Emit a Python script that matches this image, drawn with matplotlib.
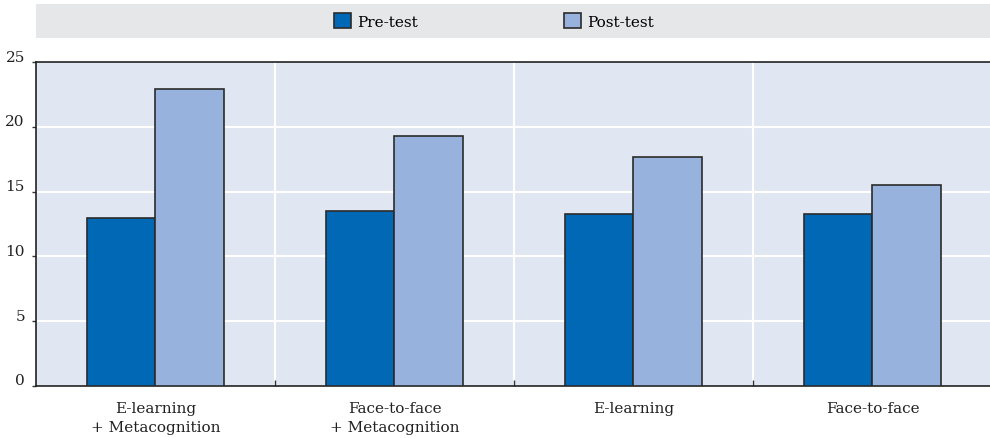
import numpy as np
import matplotlib.pyplot as plt
import matplotlib.transforms as mtransforms
from matplotlib.patches import Rectangle

# data
categories = ["E-learning\n+ Metacognition", "Face-to-face\n+ Metacognition",
              "E-learning", "Face-to-face"]
pre_test = [13.0, 13.5, 13.3, 13.3]
post_test = [22.9, 19.3, 17.7, 15.5]
series_names = ["Pre-test", "Post-test"]
y_ticks = [0, 5, 10, 15, 20, 25]

pre_color = "#0068b4"
post_color = "#97b2dd"
bg_color = "#e0e7f2"
edge = "#2b2b2b"

plt.rcParams["font.family"] = ["DejaVu Serif"]

fig = plt.figure(figsize=(9.9, 4.39), dpi=100)
ax = fig.add_axes([36 / 990, 52 / 439, 1 - 36 / 990 + 0.002, (387 - 63) / 439])
ax.set_facecolor(bg_color)

x = np.arange(len(categories))
w = 0.285
b1 = ax.bar(x - w / 2, pre_test, w, color=pre_color, edgecolor=edge, linewidth=1.2,
            label=series_names[0], zorder=3)
b2 = ax.bar(x + w / 2, post_test, w, color=post_color, edgecolor=edge, linewidth=1.2,
            label=series_names[1], zorder=3)

ax.set_xlim(-0.5, len(categories) - 0.5)
ax.set_ylim(0, 25)
ax.set_yticks(y_ticks)
ax.set_yticklabels([str(t) for t in y_ticks], fontsize=11, color="#222222")
ax.set_xticks(x)
ax.set_xticklabels(categories, fontsize=11, color="#222222", linespacing=1.45)
ax.tick_params(axis="x", length=0, pad=11)
ax.tick_params(axis="y", length=3, width=1, color="#333333", pad=5)
# move y labels slightly up like the original
off = mtransforms.ScaledTranslation(0, 7 / 100, fig.dpi_scale_trans)
for lab in ax.get_yticklabels():
    lab.set_transform(lab.get_transform() + off)

# boundaries between groups
bounds = np.arange(0.5, len(categories) - 0.5, 1)
ax.set_xticks(bounds, minor=True)
ax.tick_params(axis="x", which="minor", direction="in", length=4, width=1, color="#333333")
for b in bounds:
    ax.axvline(b, color="white", linewidth=1.5, zorder=1)
for t in y_ticks[1:-1]:
    ax.axhline(t, color="white", linewidth=1.5, zorder=1)

for s in ["left", "bottom", "top"]:
    ax.spines[s].set_color("#222222")
    ax.spines[s].set_linewidth(1.2)
ax.spines["right"].set_visible(False)

# legend band
fig.patches.append(Rectangle((36 / 990, 1 - 39 / 439), 1, 34 / 439,
                             transform=fig.transFigure, facecolor="#e6e7e9",
                             edgecolor="none", zorder=0))
fig.legend(handles=[b1, b2], labels=series_names, loc="center",
           bbox_to_anchor=(0.499, 1 - 22 / 439), ncol=2, frameon=False,
           fontsize=11, handlelength=1.1, handleheight=1.1, handletextpad=0.4,
           columnspacing=9.6)

fig.savefig("out.png", dpi=100)
